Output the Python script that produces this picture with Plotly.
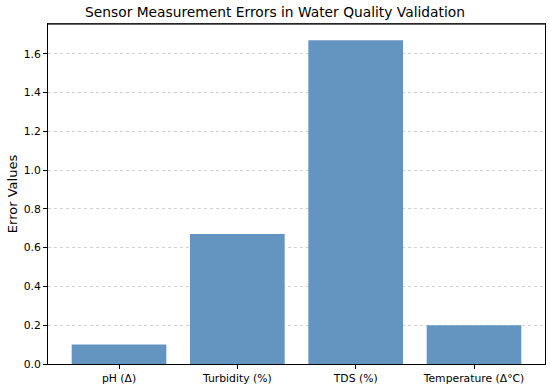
import plotly.graph_objects as go

categories = ["pH (Δ)", "Turbidity (%)", "TDS (%)", "Temperature (Δ°C)"]
errors = [0.1, 0.67, 1.67, 0.2]
y_ticks = [0.0, 0.2, 0.4, 0.6, 0.8, 1.0, 1.2, 1.4, 1.6]
y_tick_labels = ["0.0", "0.2", "0.4", "0.6", "0.8", "1.0", "1.2", "1.4", "1.6"]

fig = go.Figure(go.Bar(
    x=list(range(len(categories))), y=errors, width=0.8,
    marker=dict(color="rgb(99,149,192)", line=dict(width=0)),
))

font = "DejaVu Sans"
fig.update_layout(
    width=550, height=387,
    margin=dict(l=48, r=5, t=24, b=23, autoexpand=False),
    paper_bgcolor="white", plot_bgcolor="white",
    title=dict(text="Sensor Measurement Errors in Water Quality Validation",
               x=0.5, xanchor="center", y=1 - 12/387, yanchor="middle",
               font=dict(family=font, size=13.8, color="black")),
    font=dict(family=font, size=10.5, color="black"),
    showlegend=False,
    bargap=0.2,
    shapes=[dict(type="line", xref="paper", yref="paper", x0=0, x1=1, y0=1, y1=1,
                 line=dict(color="#333333", width=1.3), layer="above")],
)
fig.update_xaxes(
    range=[-0.6, 3.6], tickmode="array", automargin=False,
    tickvals=list(range(len(categories))), ticktext=categories,
    ticks="outside", ticklen=4, tickcolor="black",
    showline=True, linecolor="black", linewidth=1, mirror=True,
    showgrid=False, zeroline=False, tickfont=dict(size=10.8),
)
fig.update_yaxes(
    range=[0, 1.7535], tickmode="array", tickvals=y_ticks, ticktext=y_tick_labels,
    automargin=False,
    ticks="outside", ticklen=4, tickcolor="black",
    showline=True, linecolor="black", linewidth=1, mirror=True,
    showgrid=True, gridcolor="rgba(190,190,190,0.7)", griddash="3px,3px", gridwidth=0.7,
    zeroline=False, tickfont=dict(size=10.8),
    title=dict(text="Error Values", font=dict(size=13), standoff=3),
)

fig.write_html("out.html", config={"displayModeBar": False},
               post_script="document.body.style.margin='0';document.body.style.overflow='hidden';")
